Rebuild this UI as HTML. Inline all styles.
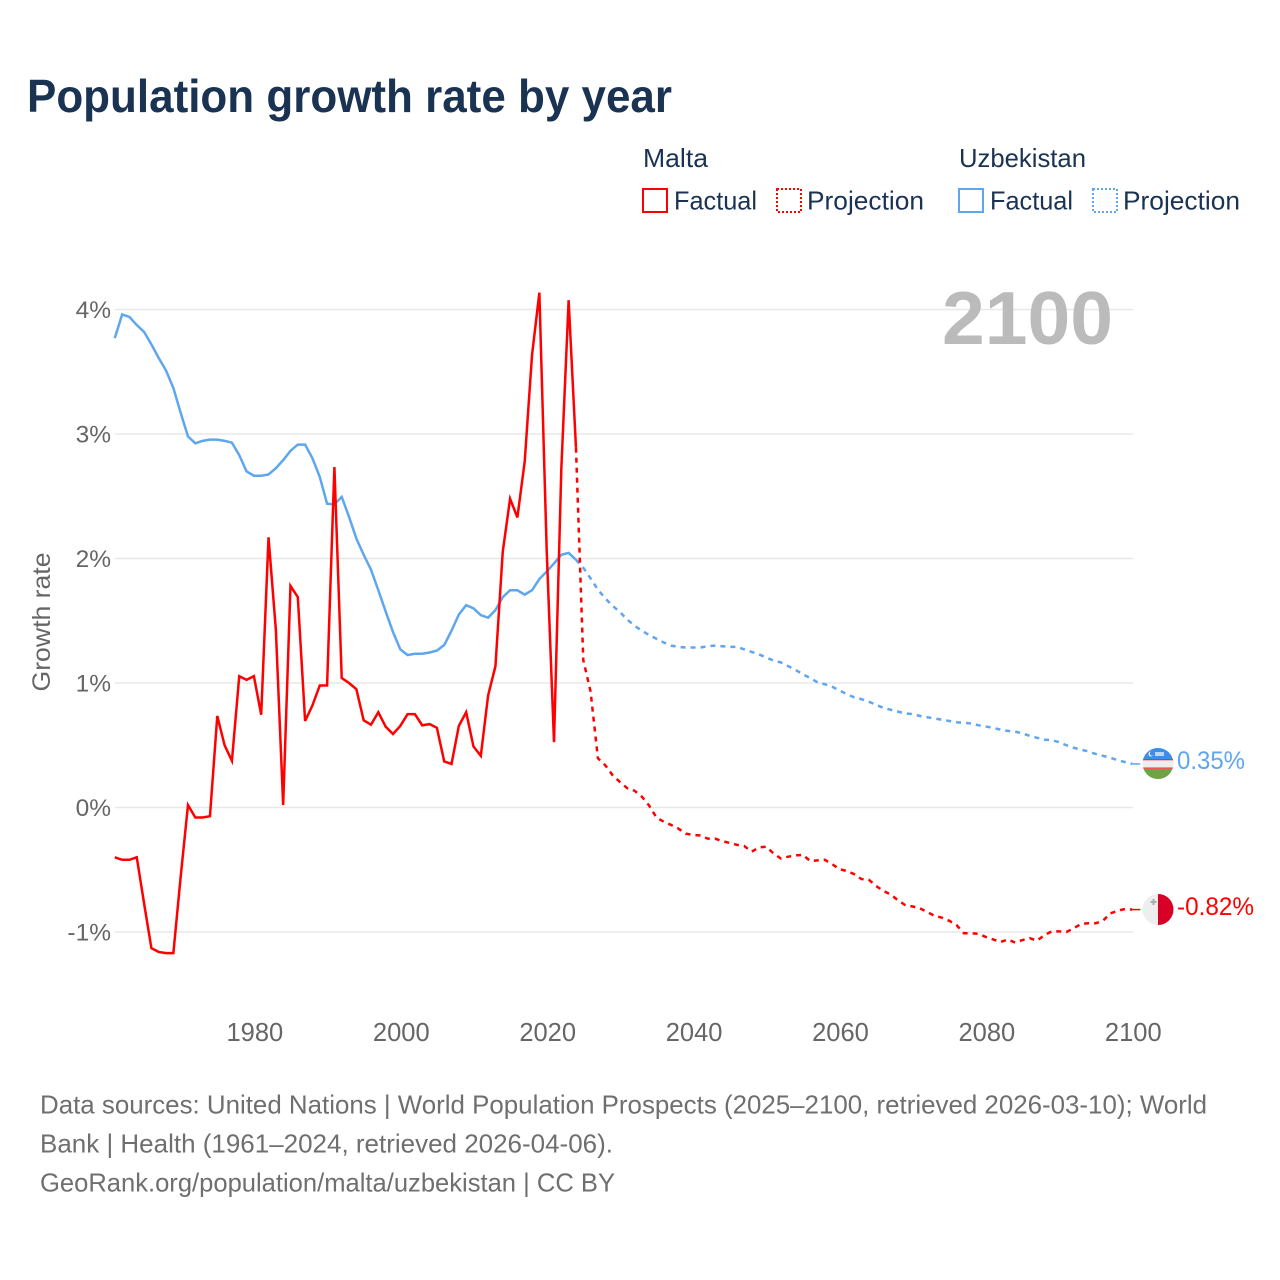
<!DOCTYPE html>
<html lang="en">
<head>
<meta charset="utf-8">
<title>Population growth rate by year</title>
<style>
html,body{margin:0;padding:0;background:#fff;width:1280px;height:1280px;overflow:hidden}
svg{display:block}
text{font-family:"Liberation Sans",sans-serif}
</style>
</head>
<body>
<svg id="chart" xmlns="http://www.w3.org/2000/svg" width="1280" height="1280" viewBox="0 0 1280 1280">
  <rect x="0" y="0" width="1280" height="1280" fill="#ffffff"/>
  <text x="27" y="112" font-size="46" font-weight="700" fill="#1a3353" textLength="645" lengthAdjust="spacingAndGlyphs">Population growth rate by year</text>

  <g font-size="26" fill="#1a3353">
    <text x="643" y="167" textLength="65" lengthAdjust="spacingAndGlyphs">Malta</text>
    <text x="959" y="167" textLength="127" lengthAdjust="spacingAndGlyphs">Uzbekistan</text>
    <rect x="643" y="189" width="24" height="23" fill="none" stroke="#ff0000" stroke-width="2"/>
    <text x="674" y="209.5" textLength="83" lengthAdjust="spacingAndGlyphs">Factual</text>
    <rect x="777" y="189" width="24" height="23" fill="none" stroke="#ff0000" stroke-width="2" stroke-dasharray="2 2"/>
    <text x="807" y="209.5" textLength="117" lengthAdjust="spacingAndGlyphs">Projection</text>
    <rect x="959" y="189" width="24" height="23" fill="none" stroke="#5ea6ee" stroke-width="2"/>
    <text x="990" y="209.5" textLength="83" lengthAdjust="spacingAndGlyphs">Factual</text>
    <rect x="1093" y="189" width="24" height="23" fill="none" stroke="#5ea6ee" stroke-width="2" stroke-dasharray="2 2"/>
    <text x="1123" y="209.5" textLength="117" lengthAdjust="spacingAndGlyphs">Projection</text>
  </g>

  <g id="grid"></g>
  <g id="yticks"></g>
  <g id="xticks"></g>

  <text transform="translate(50,622) rotate(-90)" text-anchor="middle" font-size="25" fill="#666666" textLength="139" lengthAdjust="spacingAndGlyphs">Growth rate</text>
  <text x="942" y="344" font-size="75" font-weight="700" fill="#bbbbbb" textLength="171" lengthAdjust="spacingAndGlyphs">2100</text>

  <g id="series"></g>

  <g>
    <clipPath id="clip-uz"><circle cx="1158" cy="763.5" r="15.5"/></clipPath>
    <g clip-path="url(#clip-uz)">
      <rect x="1142" y="748" width="32" height="11" fill="#3a8fe8"/>
      <rect x="1142" y="759" width="32" height="10" fill="#eeeeee"/>
      <rect x="1142" y="759" width="32" height="1.3" fill="#e8333f"/>
      <rect x="1142" y="767.5" width="32" height="1.3" fill="#e8333f"/>
      <rect x="1142" y="769" width="32" height="11" fill="#6da544"/>
      <circle cx="1151" cy="754" r="2.5" fill="#f0f0f0"/>
      <circle cx="1152" cy="753.5" r="2.2" fill="#3a8fe8"/>
      <rect x="1155" y="752" width="9" height="4" fill="#bcd6f3"/>
    </g>
  </g>
  <g>
    <clipPath id="clip-mt"><circle cx="1158" cy="909.5" r="15.5"/></clipPath>
    <g clip-path="url(#clip-mt)">
      <rect x="1142" y="894" width="16" height="32" fill="#eeeeee"/>
      <rect x="1158" y="894" width="16" height="32" fill="#d80027"/>
      <path d="M1152.5 899h2v2h2v2h-2v2h-2v-2h-2v-2h2z" fill="#acabb1"/>
    </g>
  </g>

  <text id="label-uz" x="1177" y="769" font-size="25" fill="#5ea6ee" textLength="68" lengthAdjust="spacingAndGlyphs">0.35%</text>
  <text id="label-mt" x="1177" y="915" font-size="25" fill="#ff0000" textLength="77" lengthAdjust="spacingAndGlyphs">-0.82%</text>

  <g font-size="26" fill="#6f6f6f">
    <text x="40" y="1113.5" textLength="1167" lengthAdjust="spacingAndGlyphs">Data sources: United Nations | World Population Prospects (2025–2100, retrieved 2026-03-10); World</text>
    <text x="40" y="1152.5" textLength="573" lengthAdjust="spacingAndGlyphs">Bank | Health (1961–2024, retrieved 2026-04-06).</text>
    <text x="40" y="1191.5" textLength="575" lengthAdjust="spacingAndGlyphs">GeoRank.org/population/malta/uzbekistan | CC BY</text>
  </g>
</svg>
<script>
const factualStartYear = 1961;
const projectionStartYear = 2024;
const yTickValues = [4, 3, 2, 1, 0, -1];
const yTickLabels = ["4%", "3%", "2%", "1%", "0%", "-1%"];
const xTickYears = [1980, 2000, 2020, 2040, 2060, 2080, 2100];

const maltaFactual = [-0.40,-0.42,-0.42,-0.40,-0.77,-1.13,-1.16,-1.17,-1.17,-0.555,0.02,-0.08,-0.08,-0.07,0.735,0.50,0.375,1.055,1.025,1.055,0.745,2.17,1.43,0.02,1.78,1.69,0.695,0.82,0.98,0.98,2.735,1.04,1.00,0.95,0.70,0.665,0.765,0.65,0.59,0.655,0.75,0.75,0.66,0.67,0.64,0.37,0.35,0.655,0.765,0.49,0.415,0.90,1.135,2.055,2.48,2.33,2.78,3.635,4.135,2.07,0.525,2.72,4.075,2.89];
const maltaProjection = [2.89,1.185,0.93,0.395,0.34,0.26,0.205,0.155,0.135,0.087,0.015,-0.08,-0.115,-0.14,-0.17,-0.21,-0.22,-0.225,-0.25,-0.25,-0.27,-0.285,-0.30,-0.31,-0.355,-0.32,-0.315,-0.37,-0.41,-0.395,-0.385,-0.38,-0.43,-0.425,-0.42,-0.455,-0.495,-0.51,-0.535,-0.575,-0.58,-0.63,-0.67,-0.70,-0.745,-0.785,-0.795,-0.81,-0.84,-0.87,-0.885,-0.91,-0.945,-1.01,-1.01,-1.015,-1.04,-1.06,-1.08,-1.06,-1.085,-1.065,-1.05,-1.07,-1.025,-0.995,-0.995,-1.0,-0.97,-0.935,-0.93,-0.93,-0.91,-0.85,-0.83,-0.815,-0.82];
const uzbekistanFactual = [3.77,3.96,3.94,3.875,3.82,3.72,3.61,3.51,3.37,3.17,2.98,2.925,2.945,2.955,2.955,2.945,2.93,2.83,2.70,2.665,2.665,2.675,2.725,2.79,2.865,2.915,2.915,2.805,2.655,2.44,2.435,2.495,2.335,2.16,2.03,1.91,1.745,1.575,1.41,1.27,1.225,1.235,1.235,1.245,1.26,1.305,1.42,1.55,1.625,1.60,1.545,1.525,1.585,1.69,1.745,1.745,1.71,1.745,1.835,1.895,1.96,2.03,2.045,1.99];
const uzbekistanProjection = [1.99,1.925,1.84,1.75,1.68,1.62,1.57,1.51,1.46,1.42,1.385,1.355,1.325,1.30,1.29,1.285,1.285,1.285,1.295,1.30,1.295,1.29,1.29,1.27,1.25,1.23,1.205,1.18,1.165,1.135,1.105,1.07,1.04,1.005,0.99,0.97,0.94,0.91,0.885,0.87,0.85,0.825,0.80,0.785,0.77,0.755,0.75,0.735,0.725,0.715,0.705,0.695,0.685,0.68,0.675,0.66,0.65,0.64,0.625,0.615,0.61,0.595,0.575,0.56,0.545,0.54,0.525,0.50,0.48,0.465,0.45,0.43,0.415,0.40,0.38,0.365,0.35];

const SVG_NS = "http://www.w3.org/2000/svg";
const xScale = function (year) { return 114.8 + (year - 1961) * 7.32; };
const yScale = function (value) { return 807.5 - value * 124.5; };

function make(tag, attrs) {
  const el = document.createElementNS(SVG_NS, tag);
  Object.keys(attrs).forEach(function (k) { el.setAttribute(k, attrs[k]); });
  return el;
}

const gridGroup = document.getElementById("grid");
const yTickGroup = document.getElementById("yticks");
const xTickGroup = document.getElementById("xticks");
const seriesGroup = document.getElementById("series");

yTickValues.forEach(function (v, i) {
  const line = make("line", { x1: 115, x2: 1133, y1: yScale(v), y2: yScale(v), stroke: "#e8e8e8", "stroke-width": 1.5 });
  
  
  gridGroup.appendChild(line);
  const label = make("text", { x: 111, y: yScale(v) + 8.5, "text-anchor": "end", "font-size": 24.5, fill: "#666666" });
  
  
  label.textContent = yTickLabels[i];
  yTickGroup.appendChild(label);
});

xTickYears.forEach(function (year) {
  const label = make("text", { x: xScale(year) + 1, y: 1041, "text-anchor": "middle", "font-size": 25.5, fill: "#666666" });
  
  
  label.textContent = String(year);
  xTickGroup.appendChild(label);
});

function pathFrom(values, startYear) {
  return values.map(function (v, i) {
    return (i ? "L" : "M") + xScale(startYear + i).toFixed(2) + " " + yScale(v).toFixed(2);
  }).join("");
}

const uzFactualPath = make("path", { d: pathFrom(uzbekistanFactual, factualStartYear), fill: "none", stroke: "#5ea6ee", "stroke-width": 2.5, "stroke-linejoin": "miter" });


seriesGroup.appendChild(uzFactualPath);

const uzProjectionPath = make("path", { d: pathFrom(uzbekistanProjection, projectionStartYear), fill: "none", stroke: "#5ea6ee", "stroke-width": 2.5, "stroke-dasharray": "5 5" });


seriesGroup.appendChild(uzProjectionPath);

const mtFactualPath = make("path", { d: pathFrom(maltaFactual, factualStartYear), fill: "none", stroke: "#ff0000", "stroke-width": 2.5, "stroke-linejoin": "miter" });


seriesGroup.appendChild(mtFactualPath);

const mtProjectionPath = make("path", { d: pathFrom(maltaProjection, projectionStartYear), fill: "none", stroke: "#ff0000", "stroke-width": 2.5, "stroke-dasharray": "5 5" });


seriesGroup.appendChild(mtProjectionPath);

const uzLast = uzbekistanProjection[uzbekistanProjection.length - 1];
const mtLast = maltaProjection[maltaProjection.length - 1];
const uzConnector = make("line", { x1: xScale(2100), x2: xScale(2100) + 8, y1: yScale(uzLast), y2: yScale(uzLast), stroke: "#5ea6ee", "stroke-width": 1.5 });


seriesGroup.appendChild(uzConnector);
const mtConnector = make("line", { x1: xScale(2100), x2: xScale(2100) + 8, y1: yScale(mtLast), y2: yScale(mtLast), stroke: "#ff0000", "stroke-width": 1.5 });


seriesGroup.appendChild(mtConnector);
</script>
</body>
</html>
